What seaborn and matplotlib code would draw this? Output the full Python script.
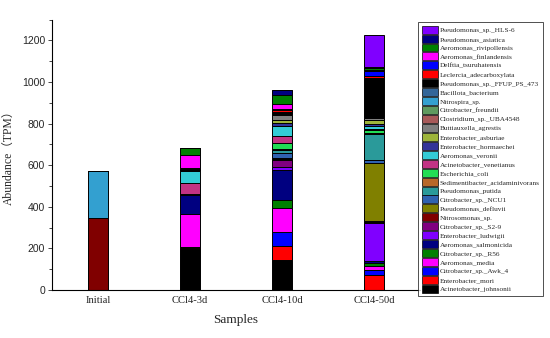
import matplotlib
matplotlib.use("Agg")
import matplotlib.pyplot as plt
from matplotlib.patches import Patch
from matplotlib.ticker import MultipleLocator
import seaborn as sns
import pandas as pd

samples = ["Initial", "CCl4-3d", "CCl4-10d", "CCl4-50d"]

# legend order (top of legend = top of stack)
species = [
    "Pseudomonas_sp._HLS-6", "Pseudomonas_asiatica", "Aeromonas_rivipollensis",
    "Aeromonas_finlandensis", "Delftia_tsuruhatensis", "Leclercia_adecarboxylata",
    "Pseudomonas_sp._FFUP_PS_473", "Bacillota_bacterium", "Nitrospira_sp.",
    "Citrobacter_freundii", "Clostridium_sp._UBA4548", "Buttiauxella_agrestis",
    "Enterobacter_asburiae", "Enterobacter_hormaechei", "Aeromonas_veronii",
    "Acinetobacter_venetianus", "Escherichia_coli", "Sedimentibacter_acidaminivorans",
    "Pseudomonas_putida", "Citrobacter_sp._NCU1", "Pseudomonas_defluvii",
    "Nitrosomonas_sp.", "Citrobacter_sp._S2-9", "Enterobacter_ludwigii",
    "Aeromonas_salmonicida", "Citrobacter_sp._R56", "Aeromonas_media",
    "Citrobacter_sp._Awk_4", "Enterobacter_mori", "Acinetobacter_johnsonii",
]

colors = [
    "#8000FF", "#000080", "#008000", "#FF00FF", "#0000FF", "#FF0000",
    "#000000", "#336699", "#33A0D0", "#5F9A5F", "#A85A5A", "#808080",
    "#9DB43A", "#333399", "#33CCD6", "#C23384", "#22DD55", "#B8682A",
    "#2A9A9A", "#3062B0", "#808000", "#800000", "#800080", "#8000FF",
    "#000080", "#008000", "#FF00FF", "#0000FF", "#FF0000", "#000000",
]

# values (TPM) per species, in sample order: Initial, CCl4-3d, CCl4-10d, CCl4-50d
v_HLS6          = [0, 0, 0, 152]
v_asiatica      = [0, 0, 24, 6]
v_rivipollensis = [0, 35, 40, 8]
v_finlandensis  = [0, 61, 28, 3]
v_delftia       = [0, 0, 2, 24]
v_leclercia     = [0, 0, 10, 14]
v_FFUP          = [0, 12, 6, 180]
v_bacillota     = [0, 0, 2, 3]
v_nitrospira    = [224, 0, 2, 2]
v_freundii      = [0, 0, 2, 2]
v_clostridium   = [0, 0, 3, 3]
v_buttiauxella  = [0, 0, 24, 10]
v_asburiae      = [0, 0, 15, 19]
v_hormaechei    = [0, 4, 15, 11]
v_veronii       = [0, 56, 48, 13]
v_venetianus    = [0, 53, 32, 5]
v_ecoli         = [0, 0, 27, 14]
v_sedimentib    = [0, 0, 5, 3]
v_putida        = [0, 0, 16, 128]
v_NCU1          = [0, 0, 26, 13]
v_defluvii      = [0, 0, 3, 278]
v_nitrosomonas  = [347, 3, 3, 5]
v_S29           = [0, 0, 35, 5]
v_ludwigii      = [0, 0, 13, 182]
v_salmonicida   = [0, 94, 144, 10]
v_R56           = [0, 0, 43, 16]
v_media         = [0, 160, 114, 19]
v_Awk4          = [0, 0, 67, 24]
v_mori          = [0, 5, 67, 72]
v_johnsonii     = [0, 200, 144, 0]

values = [
    v_HLS6, v_asiatica, v_rivipollensis, v_finlandensis, v_delftia, v_leclercia,
    v_FFUP, v_bacillota, v_nitrospira, v_freundii, v_clostridium, v_buttiauxella,
    v_asburiae, v_hormaechei, v_veronii, v_venetianus, v_ecoli, v_sedimentib,
    v_putida, v_NCU1, v_defluvii, v_nitrosomonas, v_S29, v_ludwigii,
    v_salmonicida, v_R56, v_media, v_Awk4, v_mori, v_johnsonii,
]

rows = []
for sp, vals in zip(species, values):
    for s, v in zip(samples, vals):
        rows.append({"Sample": s, "Species": sp, "TPM": v})
df = pd.DataFrame(rows)
df["Sample"] = pd.Categorical(df["Sample"], categories=samples, ordered=True)
df["pos"] = df["Sample"].cat.codes

sns.set_style("white")
serif = ["Liberation Serif", "DejaVu Serif"]

fig = plt.figure(figsize=(5.5, 3.38), dpi=100)
ax = fig.add_axes([52 / 550, 1 - 290 / 338, (420 - 52) / 550, (290 - 19.6) / 338])

palette = dict(zip(species, colors))
sns.histplot(
    data=df, x="pos", weights="TPM", hue="Species", hue_order=species,
    multiple="stack", discrete=True, shrink=0.21, palette=palette,
    edgecolor="black", linewidth=0.7, alpha=1, legend=False, ax=ax,
)

ax.set_xlim(-0.5, 3.5)
ax.set_ylim(0, 1300)
ax.set_xticks(range(len(samples)))
ax.set_xticklabels(samples, fontfamily=serif, fontsize=7.6)
ax.set_yticks(range(0, 1201, 200))
ax.yaxis.set_minor_locator(MultipleLocator(100))
ax.tick_params(axis="y", which="major", direction="out", length=3, width=0.6,
               labelsize=7.5, left=True, pad=2)
ax.tick_params(axis="y", which="minor", direction="out", length=2, width=0.6, left=True)
ax.tick_params(axis="x", length=0, pad=4)
for lab in ax.get_yticklabels():
    lab.set_fontfamily(["Liberation Sans", "DejaVu Sans"])

ax.set_xlabel("Samples", fontfamily=serif, fontsize=9.5, labelpad=7)
ax.set_ylabel("Abundance（TPM）", fontfamily=["Liberation Serif", "Noto Sans CJK SC"],
              fontsize=8.4, labelpad=4)

for side in ["top", "right"]:
    ax.spines[side].set_visible(False)
for side in ["left", "bottom"]:
    ax.spines[side].set_linewidth(0.8)
    ax.spines[side].set_color("black")

handles = [Patch(facecolor=c, edgecolor="black", linewidth=0.5) for c in colors]
leg = fig.legend(
    handles, species, loc="upper left", bbox_to_anchor=(418 / 550, 1 - 22 / 338),
    bbox_transform=fig.transFigure, borderaxespad=0, frameon=True,
    prop={"family": serif, "size": 5.25}, handlelength=2.2, handleheight=1.3,
    handletextpad=0.25, labelspacing=0.136, borderpad=0.5, fancybox=False,
)
leg.get_frame().set_edgecolor("black")
leg.get_frame().set_linewidth(0.6)

fig.savefig("out.png", dpi=100)
